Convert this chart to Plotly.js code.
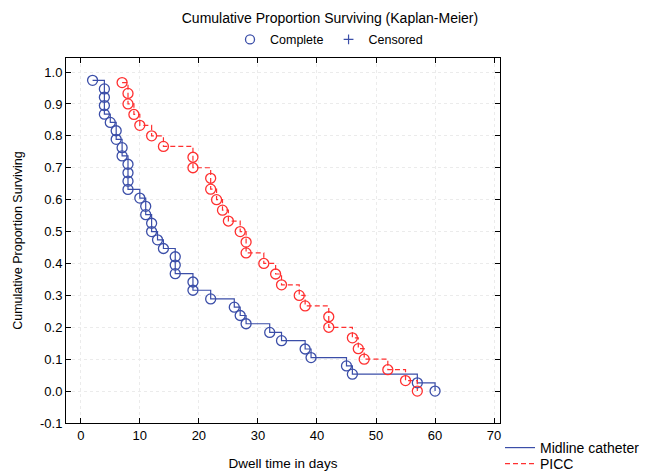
<!DOCTYPE html>
<html>
<head>
<meta charset="utf-8">
<script src="https://cdn.plot.ly/plotly-3.0.1.min.js"></script>
<style>html,body{margin:0;padding:0;background:#fff;}#chart{width:647px;height:471px;}</style>
</head>
<body>
<div id="chart"></div>
<script>
// Midline catheter (blue): event times (days) and KM cumulative proportion surviving
const midlineDays = [2,4,4,4,4,5,6,6,7,7,8,8,8,8,10,11,11,12,12,13,14,16,16,16,19,19,22,26,27,28,32,34,38,39,45,46,57,60];
const midlineSurv = [0.974,0.947,0.921,0.895,0.868,0.842,0.816,0.789,0.763,0.737,0.711,0.684,0.658,0.632,0.605,0.579,0.553,0.526,0.500,0.474,0.447,0.421,0.395,0.368,0.342,0.316,0.289,0.263,0.237,0.211,0.184,0.158,0.132,0.105,0.079,0.053,0.026,0.000];
// PICC (red)
const piccDays = [7,8,8,9,10,12,14,19,19,22,22,23,24,25,27,28,28,31,33,34,37,38,42,42,46,47,48,52,55,57];
const piccSurv = [0.967,0.933,0.900,0.867,0.833,0.800,0.767,0.733,0.700,0.667,0.633,0.600,0.567,0.533,0.500,0.467,0.433,0.400,0.367,0.333,0.300,0.267,0.233,0.200,0.167,0.133,0.100,0.067,0.033,0.000];

const xTickVals = [0,10,20,30,40,50,60,70];
const yTickVals = [-0.1,0,0.1,0.2,0.3,0.4,0.5,0.6,0.7,0.8,0.9,1.0];
const yTickText = ["-0.1","0.0","0.1","0.2","0.3","0.4","0.5","0.6","0.7","0.8","0.9","1.0"];

const seriesNames = ["Midline catheter","PICC"];
const markerLegendNames = ["Complete","Censored"];

const BLUE = '#3b4ea8';
const RED = '#ff3030';
const FONT = 'Liberation Sans, Arial, sans-serif';

const traces = [
  {x: midlineDays, y: midlineSurv, type:'scatter', mode:'lines', line:{shape:'hv', color:BLUE, width:1.2},
   name: seriesNames[0], legend:'legend', hoverinfo:'skip'},
  {x: piccDays, y: piccSurv, type:'scatter', mode:'lines', line:{shape:'hv', color:RED, width:1.2, dash:'5px,3px'},
   name: seriesNames[1], legend:'legend3', hoverinfo:'skip'},
  {x: midlineDays, y: midlineSurv, type:'scatter', mode:'markers', showlegend:false,
   marker:{symbol:'circle-open', size:10, color:BLUE, line:{width:1.3, color:BLUE}}},
  {x: piccDays, y: piccSurv, type:'scatter', mode:'markers', showlegend:false,
   marker:{symbol:'circle-open', size:10, color:RED, line:{width:1.3, color:RED}}},
  {x:[null], y:[null], type:'scatter', mode:'markers', name: markerLegendNames[0], legend:'legend2',
   marker:{symbol:'circle-open', size:9, color:BLUE, line:{width:1.3, color:BLUE}}},
  {x:[null], y:[null], type:'scatter', mode:'markers', name: markerLegendNames[1], legend:'legend2',
   marker:{symbol:'cross-thin-open', size:7, color:BLUE, line:{width:1.2, color:BLUE}}}
];

const axisCommon = {
  showline:true, linecolor:'#000', linewidth:1, mirror:'ticks',
  ticks:'inside', ticklen:5, tickcolor:'#000', tickwidth:1,
  showgrid:true, gridcolor:'#ebebeb', griddash:'dot', gridwidth:1,
  zeroline:false, tickfont:{family:FONT, size:13, color:'#000'}, automargin:false
};

const legendFont = {family:FONT, size:14, color:'#000'};

const layout = {
  width:647, height:471,
  paper_bgcolor:'#fff', plot_bgcolor:'#fff',
  margin:{l:66, r:147, t:58, b:48, autoexpand:false},
  font:{family:FONT, size:13, color:'#000'},
  title:{text:'Cumulative Proportion Surviving (Kaplan-Meier)', x:0.51, xref:'container', xanchor:'center',
         y:1-18/471, yref:'container', yanchor:'middle', font:{family:FONT, size:14, color:'#000'}},
  xaxis: Object.assign({}, axisCommon, {range:[-2.5, 71], tickvals:xTickVals,
    title:{text:'Dwell time in days', standoff:20, font:{family:FONT, size:13.5, color:'#000'}}}),
  yaxis: Object.assign({}, axisCommon, {range:[-0.1, 1.044], tickvals:yTickVals, ticktext:yTickText,
    title:{text:'Cumulative Proportion Surviving', standoff:14, font:{family:FONT, size:12.5, color:'#000'}}}),
  showlegend:true,
  legend:{x:1.0, y:-0.0685, xanchor:'left', yanchor:'middle', bgcolor:'rgba(0,0,0,0)', font:legendFont},
  legend3:{x:1.0, y:-0.1123, xanchor:'left', yanchor:'middle', bgcolor:'rgba(0,0,0,0)', font:legendFont},
  legend2:{orientation:'h', x:0.606, y:1.05, xanchor:'center', yanchor:'middle', bgcolor:'rgba(0,0,0,0)',
          font:{family:FONT, size:12.5, color:'#000'}}
};

Plotly.newPlot('chart', traces, layout, {staticPlot:true, displayModeBar:false});
</script>
</body>
</html>
